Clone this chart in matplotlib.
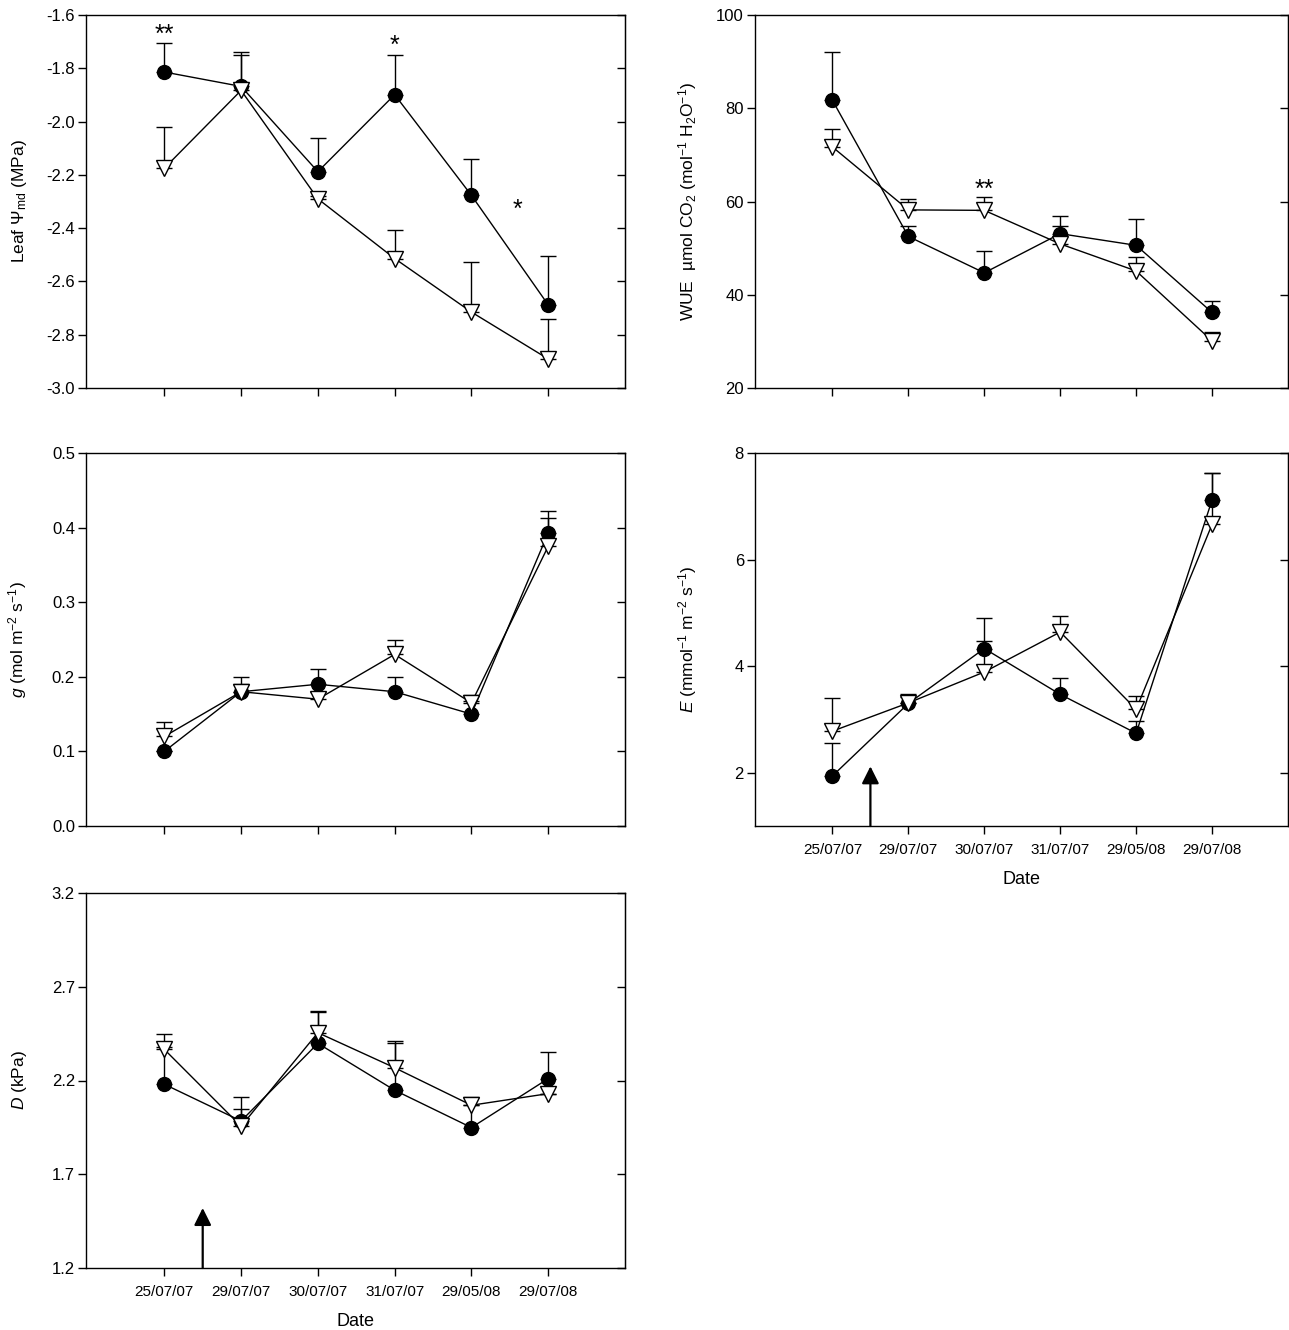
import numpy as np
import matplotlib
matplotlib.use("Agg")
import matplotlib.pyplot as plt

plt.rcParams["font.family"] = ["Liberation Sans", "DejaVu Sans"]
plt.rcParams["mathtext.fontset"] = "custom"
plt.rcParams["mathtext.rm"] = "Liberation Sans"
plt.rcParams["mathtext.it"] = "Liberation Sans:italic"
plt.rcParams["axes.unicode_minus"] = False

# ===============================
# DATA
# ===============================
dates = ["25/07/07", "29/07/07", "30/07/07", "31/07/07", "29/05/08", "29/07/08"]

psi_circle = [-1.814, -1.868, -2.188, -1.899, -2.277, -2.688]
psi_circle_top = [-1.705, -1.752, -2.063, -1.749, -2.139, -2.505]
psi_tri = [-2.175, -1.883, -2.29, -2.514, -2.715, -2.891]
psi_tri_top = [-2.021, -1.737, -2.28, -2.407, -2.528, -2.742]

wue_circle = [81.7, 52.5, 44.7, 53.1, 50.6, 36.2]
wue_circle_top = [92.0, 54.7, 49.3, 56.8, 56.2, 38.6]
wue_tri = [71.7, 58.2, 58.1, 50.9, 45.1, 30.1]
wue_tri_top = [75.5, 60.6, 60.9, 54.7, 48.1, 32.1]

g_circle = [0.10, 0.18, 0.19, 0.18, 0.15, 0.393]
g_circle_top = [0.10, 0.19, 0.21, 0.20, 0.168, 0.413]
g_tri = [0.12, 0.18, 0.17, 0.23, 0.165, 0.375]
g_tri_top = [0.14, 0.20, 0.18, 0.25, 0.176, 0.422]

e_circle = [1.94, 3.30, 4.33, 3.47, 2.74, 7.12]
e_circle_top = [2.56, 3.47, 4.91, 3.78, 2.97, 7.63]
e_tri = [2.78, 3.31, 3.89, 4.64, 3.19, 6.66]
e_tri_top = [3.41, 3.43, 4.47, 4.94, 3.44, 7.62]

d_circle = [2.18, 1.984, 2.398, 2.148, 1.949, 2.21]
d_circle_top = [2.38, 2.05, 2.57, 2.40, 2.07, 2.35]
d_tri = [2.366, 1.956, 2.455, 2.268, 2.068, 2.13]
d_tri_top = [2.45, 2.11, 2.564, 2.41, 2.11, 2.13]

x = np.arange(len(dates))


# ===============================
# HELPERS
# ===============================
def plot_panel(ax, yc, yc_top, yt, yt_top, ylim, yticks, fmt, ylabel):
    yc = np.array(yc); yt = np.array(yt)
    ax.errorbar(x, yc, yerr=[np.zeros(len(x)), np.array(yc_top) - yc],
                fmt="none", ecolor="black", elinewidth=1, capsize=6, capthick=1, zorder=2)
    ax.errorbar(x, yt, yerr=[np.zeros(len(x)), np.array(yt_top) - yt],
                fmt="none", ecolor="black", elinewidth=1, capsize=6, capthick=1, zorder=2)
    ax.plot(x, yc, "-o", color="black", lw=1, ms=10, mfc="black", mec="black", zorder=3)
    ax.plot(x, yt, "-v", color="black", lw=1, ms=11, mfc="white", mec="black",
            mew=1, zorder=4)
    ax.set_xlim(-1.02, 6.0)
    ax.set_ylim(*ylim)
    ax.set_yticks(yticks)
    ax.set_yticklabels([fmt.format(v) for v in yticks])
    ax.set_xticks(x)
    ax.set_xticklabels([])
    ax.tick_params(axis="y", direction="out", length=6, labelsize=12, width=1, pad=2)
    ax.tick_params(axis="x", direction="out", length=6, labelsize=11, width=1, pad=6)
    sec = ax.secondary_yaxis("right")
    sec.set_yticks(yticks)
    sec.set_yticklabels([])
    sec.tick_params(direction="in", length=6, width=1)
    ax.set_ylabel(ylabel, fontsize=12.5)
    ax.yaxis.set_label_coords(-0.106, 0.5)
    for s in ax.spines.values():
        s.set_linewidth(1)


def add_arrow(ax, xpos, tip, base):
    ax.annotate("", xy=(xpos, tip), xytext=(xpos, base),
                arrowprops=dict(arrowstyle="-|>", color="black", lw=1.6,
                                mutation_scale=26, shrinkA=0, shrinkB=0))


# ===============================
# FIGURE
# ===============================
fig = plt.figure(figsize=(12.89, 13.30), dpi=100)

lx, lw = 86 / 1289, 539 / 1289
rx, rw = 755 / 1289, 533 / 1289
h = 373 / 1330

ax_psi = fig.add_axes([lx, 1 - 388 / 1330, lw, h])
ax_wue = fig.add_axes([rx, 1 - 388 / 1330, rw, h])
ax_g = fig.add_axes([lx, 1 - 826 / 1330, lw, h])
ax_e = fig.add_axes([rx, 1 - 826 / 1330, rw, h])
ax_d = fig.add_axes([lx, 1 - 1268 / 1330, lw, 375 / 1330])

plot_panel(ax_psi, psi_circle, psi_circle_top, psi_tri, psi_tri_top,
           (-3.0, -1.6), [-3.0, -2.8, -2.6, -2.4, -2.2, -2.0, -1.8, -1.6], "{:.1f}",
           r"Leaf $\Psi_{\rm md}$ (MPa)")
ax_psi.text(0, -1.675, "**", ha="center", va="center", fontsize=18)
ax_psi.text(3, -1.715, "*", ha="center", va="center", fontsize=18)
ax_psi.text(4.6, -2.33, "*", ha="center", va="center", fontsize=18)

plot_panel(ax_wue, wue_circle, wue_circle_top, wue_tri, wue_tri_top,
           (20, 100), [20, 40, 60, 80, 100], "{:.0f}",
           "WUE  µmol CO$_2$ (mol$^{-1}$ H$_2$O$^{-1}$)")
ax_wue.text(2, 62.6, "**", ha="center", va="center", fontsize=18)

plot_panel(ax_g, g_circle, g_circle_top, g_tri, g_tri_top,
           (0.0, 0.5), [0.0, 0.1, 0.2, 0.3, 0.4, 0.5], "{:.1f}",
           r"$g$ (mol m$^{-2}$ s$^{-1}$)")

plot_panel(ax_e, e_circle, e_circle_top, e_tri, e_tri_top,
           (1.0, 8.0), [2, 4, 6, 8], "{:.0f}",
           r"$E$ (mmol$^{-1}$ m$^{-2}$ s$^{-1}$)")
ax_e.set_xticklabels(dates)
ax_e.set_xlabel("Date", fontsize=13, labelpad=10)
add_arrow(ax_e, 0.5, 2.12, 1.0)

plot_panel(ax_d, d_circle, d_circle_top, d_tri, d_tri_top,
           (1.2, 3.2), [1.2, 1.7, 2.2, 2.7, 3.2], "{:.1f}",
           r"$D$ (kPa)")
ax_d.set_xticklabels(dates)
ax_d.set_xlabel("Date", fontsize=13, labelpad=10)
add_arrow(ax_d, 0.5, 1.52, 1.2)

fig.savefig("out.png", dpi=100)
